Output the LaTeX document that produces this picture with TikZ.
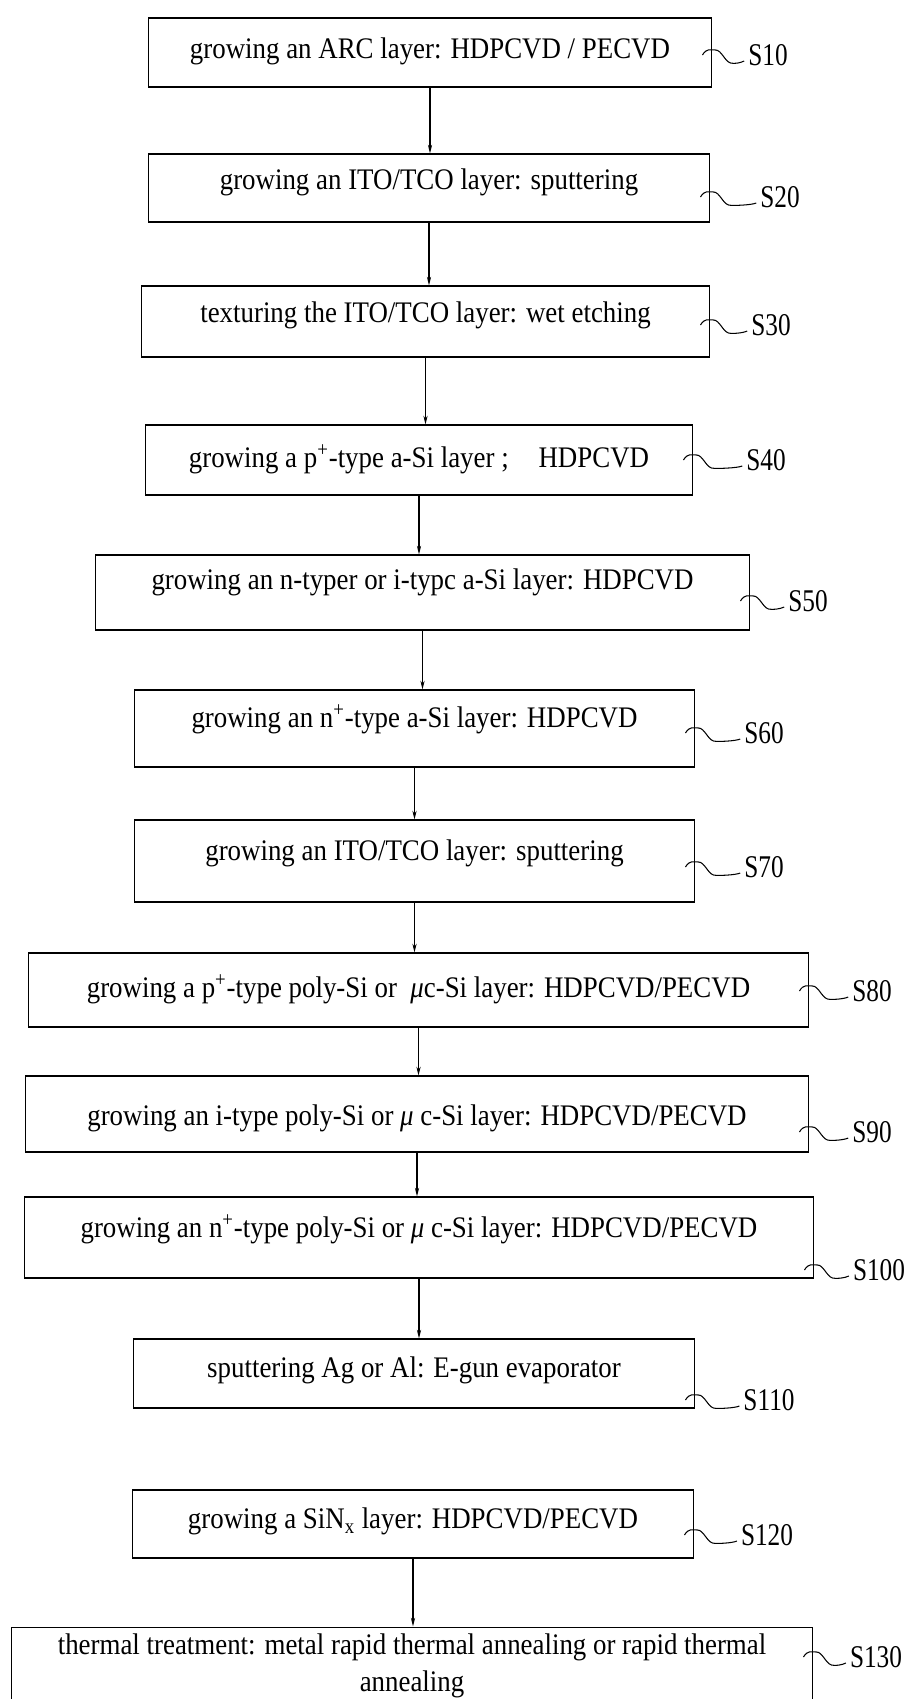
\documentclass[tikz,border=0pt]{standalone}
\usepackage{fontspec}
\setmainfont{Liberation Serif}[FakeStretch=0.9]
\newfontfamily\labelfont{Liberation Serif}[FakeStretch=0.8]
\usetikzlibrary{arrows.meta,calc}
\tikzset{
  stepframe/.style={draw, line width=0.6pt, inner sep=0pt, align=center,
    font=\fontsize{17}{21}\selectfont},
  stepbox/.style={stepframe, text height=14pt, text depth=#1},
  stepbox/.default=3pt,
  steplabel/.style={inner sep=1pt, font=\labelfont\fontsize{18}{20}\selectfont},
  flow/.style={line width=0.6pt, -{Stealth[length=5pt,width=2.4pt]}}
}
\begin{document}
\begin{tikzpicture}[x=0.02cm, y=-0.02cm]
  \useasboundingbox (0,0) rectangle (910,1699);
  % process steps
  \node[stepbox=7.6pt, minimum width=11.28cm, minimum height=1.38cm] (s10) at (430,52.5)
    {growing an ARC layer: HDPCVD / PECVD};
  \node[stepbox=12.1pt, minimum width=11.24cm, minimum height=1.36cm] (s20) at (429,188)
    {growing an ITO/TCO layer: sputtering};
  \node[stepbox=13.3pt, minimum width=11.38cm, minimum height=1.42cm] (s30) at (425.5,321.5)
    {texturing the ITO/TCO layer: wet etching};
  \node[stepbox=5.3pt, minimum width=10.96cm, minimum height=1.40cm] (s40) at (419,460)
    {growing a p\textsuperscript{+}-type a-Si layer ;\quad HDPCVD};
  \node[stepbox=17.8pt, minimum width=13.10cm, minimum height=1.50cm] (s50) at (422.5,592.5)
    {growing an n-typer or i-typc a-Si layer: HDPCVD};
  \node[stepbox=15.5pt, minimum width=11.22cm, minimum height=1.54cm] (s60) at (414.5,728.5)
    {growing an n\textsuperscript{+}-type a-Si layer: HDPCVD};
  \node[stepbox=14.4pt, minimum width=11.22cm, minimum height=1.64cm] (s70) at (414.5,861)
    {growing an ITO/TCO layer: sputtering};
  \node[stepbox=5.3pt, minimum width=15.62cm, minimum height=1.48cm] (s80) at (418.5,990)
    {growing a p\textsuperscript{+}-type poly-Si or \ \textit{μ}c-Si layer: HDPCVD/PECVD};
  \node[stepbox=1pt, minimum width=15.68cm, minimum height=1.52cm] (s90) at (417,1114)
    {growing an i-type poly-Si or \textit{μ} c-Si layer: HDPCVD/PECVD};
  \node[stepbox=14.4pt, minimum width=15.80cm, minimum height=1.62cm] (s100) at (419,1237.5)
    {growing an n\textsuperscript{+}-type poly-Si or \textit{μ} c-Si layer: HDPCVD/PECVD};
  \node[stepbox=9.8pt, minimum width=11.24cm, minimum height=1.38cm] (s110) at (414,1373.5)
    {sputtering Ag or Al: E-gun evaporator};
  \node[stepbox=8.7pt, minimum width=11.24cm, minimum height=1.36cm] (s120) at (413,1524)
    {growing a SiN\textsubscript{x} layer: HDPCVD/PECVD};
  \node[stepframe, minimum width=16.04cm, minimum height=1.56cm] (s130) at (412,1666)
    {thermal treatment: metal rapid thermal annealing or rapid thermal\\annealing};
  % arrows between steps
  \foreach \a/\b in {10/20,20/30,30/40,40/50,50/60,60/70,70/80,80/90,90/100,100/110,120/130}
    \draw[flow] (s\a.south) -- (s\a.south |- s\b.north);
  % step numbers with wavy leaders
  \foreach \n/\lx/\ly in {10/768/55,20/780/197,30/771/325,40/766/460,50/808/601,
      60/764/733,70/764/867,80/872/991,90/872/1132,100/879/1270,110/769/1400,
      120/767/1535,130/876/1657} {
    \node[steplabel] (l\n) at (\lx,\ly) {S\n};
    \coordinate (a\n) at ($(s\n.east |- l\n.west)+(-10,0)$);
    \draw[line width=0.6pt] (a\n) .. controls +(4,-7) and +(-5,0) .. ++(13,-5)
      .. controls +(6,0) and +(-6,-2) .. ++(15,13)
      .. controls +(4,1) and +(-4,2) .. ($(l\n.west)+(-2,6)$);
  }
\end{tikzpicture}
\end{document}
